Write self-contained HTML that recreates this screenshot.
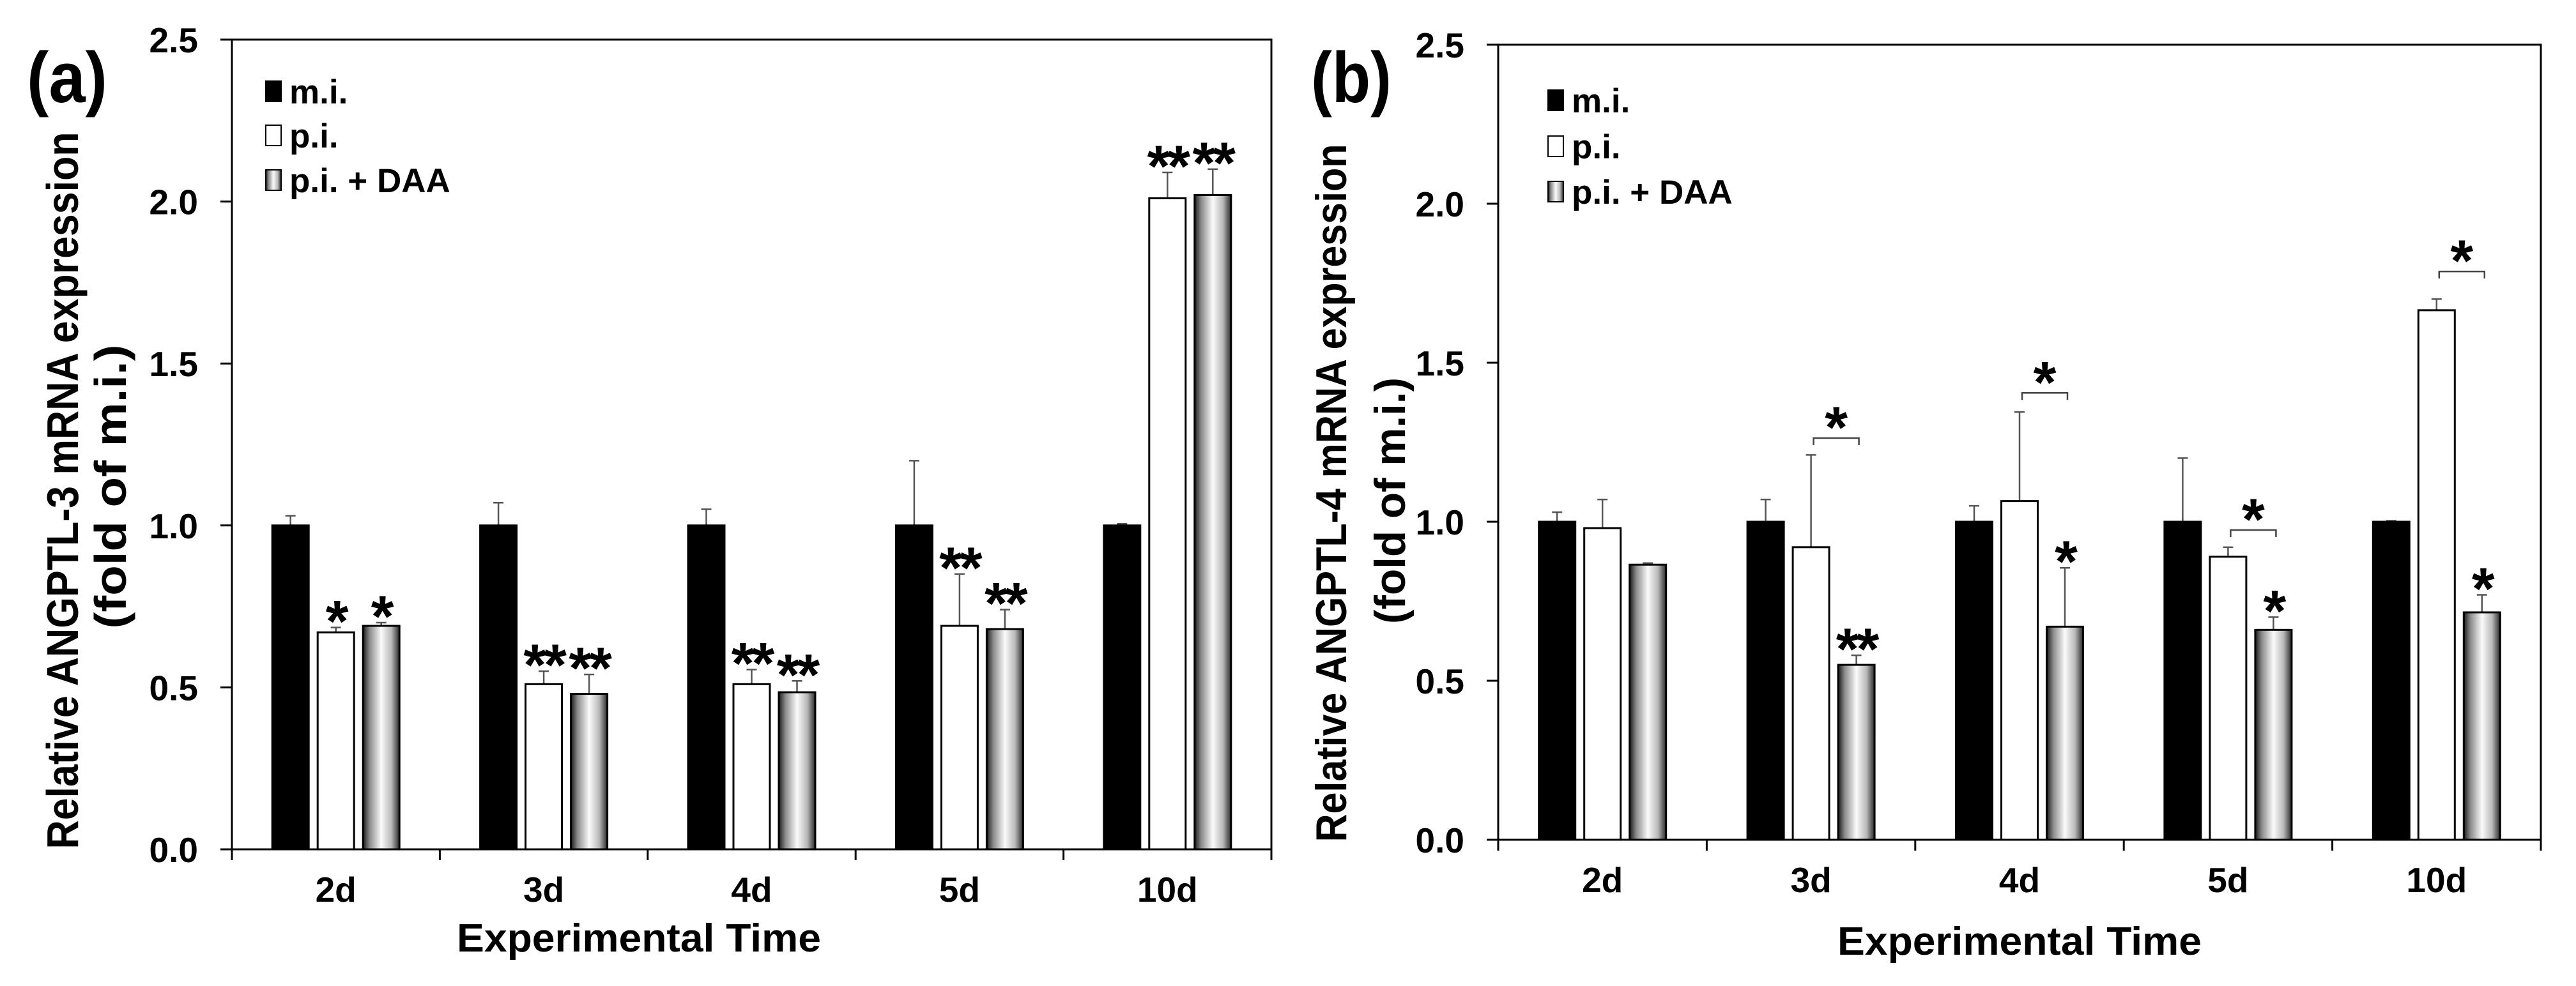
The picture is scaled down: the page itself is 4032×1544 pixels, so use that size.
<!DOCTYPE html>
<html><head><meta charset="utf-8"><style>
html,body{margin:0;padding:0;background:#fff;}
svg{display:block;font-family:"Liberation Sans",Arial,sans-serif;font-weight:bold;}
</style></head><body>
<svg id="fig" width="4032" height="1544" viewBox="0 0 4032 1544" xmlns="http://www.w3.org/2000/svg">
<defs>
<linearGradient id="cyl" x1="0" x2="1" y1="0" y2="0">
<stop offset="0" stop-color="#1a1a1a"/><stop offset="0.18" stop-color="#8a8a8a"/>
<stop offset="0.5" stop-color="#fbfbfb"/><stop offset="0.78" stop-color="#b8b8b8"/>
<stop offset="1" stop-color="#2a2a2a"/></linearGradient>
</defs>
</svg>
<script>
// categories and series
const categories = ["2d","3d","4d","5d","10d"];
const yTicks = ["0.0","0.5","1.0","1.5","2.0","2.5"];
const seriesNames = ["m.i.","p.i.","p.i. + DAA"];
// panel a values
const aMI = [1.0,1.0,1.0,1.0,1.0];
const aMIerr = [0.03,0.07,0.05,0.20,0.005];
const aPI = [0.67,0.51,0.51,0.69,2.01];
const aPIerr = [0.015,0.04,0.045,0.16,0.08];
const aDAA = [0.69,0.48,0.485,0.68,2.02];
const aDAAerr = [0.01,0.06,0.035,0.06,0.08];
const aPIstars = ["*","**","**","**","**"];
const aDAAstars = ["*","**","**","**","**"];
// panel b values
const bMI = [1.0,1.0,1.0,1.0,1.0];
const bMIerr = [0.03,0.07,0.05,0.20,0.003];
const bPI = [0.98,0.92,1.065,0.89,1.665];
const bPIerr = [0.09,0.29,0.28,0.03,0.035];
const bDAA = [0.865,0.55,0.67,0.66,0.715];
const bDAAerr = [0.005,0.03,0.185,0.04,0.055];
const bPIstars = ["","","","",""];
const bDAAstars = ["","**","*","*","*"];
const bBracketY = [null,1.263,1.405,0.974,1.787];

const svg=document.getElementById('fig');
const NS="http://www.w3.org/2000/svg";
function mk(tag,attrs,parent){const e=document.createElementNS(NS,tag);for(const k in attrs)e.setAttribute(k,attrs[k]);(parent||svg).appendChild(e);return e;}

function panel(cfg){
  const g=mk('g',{});
  
  
  const L=cfg.left,R=cfg.right,T=cfg.top,B=cfg.bottom;
  const yS=v=>B-(v/2.5)*(B-T);
  const gw=(R-L)/categories.length;
  const xC=i=>L+gw*(i+0.5);
  const fr=mk('rect',{x:L,y:T,width:R-L,height:B-T,fill:'none',stroke:'#000','stroke-width':3},g);
  
  
  yTicks.forEach((t,i)=>{
    const v=parseFloat(t),y=yS(v);
    mk('line',{x1:L-18,x2:L,y1:y,y2:y,stroke:'#000','stroke-width':3},g);
    const tx=mk('text',{x:L-53,y:y+20,'text-anchor':'end','font-size':55},g);
    tx.textContent=t;
    
    
  });
  for(let i=0;i<=categories.length;i++){
    const x=L+gw*i;
    mk('line',{x1:x,x2:x,y1:B,y2:B+17,stroke:'#000','stroke-width':3},g);
  }
  categories.forEach((c,i)=>{
    const tx=mk('text',{x:xC(i),y:B+82,'text-anchor':'middle','font-size':55},g);
    tx.textContent=c;
    
    
  });
  const bw=57,off=71;
  const fills=['#000','#fff','url(#cyl)'];
  const names=['bar-mi','bar-pi','bar-pi-daa'];
  const sets=[[cfg.mi,cfg.miE,null],[cfg.pi,cfg.piE,cfg.piS],[cfg.daa,cfg.daaE,cfg.daaS]];
  categories.forEach((c,i)=>{
    sets.forEach((s,k)=>{
      const cx=xC(i)+(k-1)*off,v=s[0][i],e=s[1][i];
      const yt=yS(v),ye=yS(v+e);
      const ln=mk('line',{x1:cx,x2:cx,y1:yt,y2:ye,stroke:'#555','stroke-width':2.5},g);
      
      
      mk('line',{x1:cx-8,x2:cx+8,y1:ye,y2:ye,stroke:'#555','stroke-width':2.5},g);
      const r=mk('rect',{x:cx-bw/2,y:yt,width:bw,height:B-yt,fill:fills[k],stroke:'#000','stroke-width':3},g);
      
      
      if(s[2]&&s[2][i]){
        const st=mk('text',{x:cx,y:ye+22,'text-anchor':'middle','font-size':92,'letter-spacing':'-4'},g);
        st.textContent=s[2][i];
        
        
      }
    });
    if(cfg.br&&cfg.br[i]!=null){
      const y=yS(cfg.br[i]),x1=xC(i)+4,x2=xC(i)+off+4;
      const p=mk('path',{d:`M${x1},${y+11}V${y}H${x2}V${y+11}`,fill:'none',stroke:'#444','stroke-width':2.5},g);
      
      
      const st=mk('text',{x:(x1+x2)/2,y:y+15,'text-anchor':'middle','font-size':92},g);
      st.textContent='*';
      
      
    }
  });
  cfg.legY.forEach((y,k)=>{
    const r=mk('rect',{x:cfg.legX,y:y-16,width:24,height:32,fill:fills[k],stroke:'#000','stroke-width':2},g);
    
    
    const t=mk('text',{x:cfg.legX+37,y:y+19,'font-size':53},g);
    t.textContent=seriesNames[k];
    
    
  });
  const xt=mk('text',{x:cfg.xtX,y:cfg.xtY,'text-anchor':'middle','font-size':62,textLength:570,lengthAdjust:'spacingAndGlyphs'},g);
  xt.textContent='Experimental Time';
  
  
  const y1=mk('text',{x:0,y:0,'text-anchor':'middle','font-size':cfg.tf,textLength:cfg.t1Len,lengthAdjust:'spacingAndGlyphs',transform:`translate(${cfg.t1X},${cfg.t1C}) rotate(-90)`},g);
  y1.textContent=cfg.title;
  
  
  const y2=mk('text',{x:0,y:0,'text-anchor':'middle','font-size':cfg.tf,textLength:cfg.t2Len,lengthAdjust:'spacingAndGlyphs',transform:`translate(${cfg.t2X},${cfg.t2C}) rotate(-90)`},g);
  y2.textContent='(fold of m.i.)';
  
  
  const pl=mk('text',{x:cfg.plX,y:cfg.plY,'font-size':112,textLength:126,lengthAdjust:'spacingAndGlyphs'},g);
  pl.textContent=cfg.label;
  
  
}
panel({id:'a',left:363,right:1990,top:62,bottom:1330,mi:aMI,miE:aMIerr,pi:aPI,piE:aPIerr,piS:aPIstars,daa:aDAA,daaE:aDAAerr,daaS:aDAAstars,br:null,
  legX:416,legY:[143,212,282],xtX:1000,xtY:1490,tf:70,title:'Relative ANGPTL-3 mRNA expression',t1X:122,t1C:768,t1Len:1123,t2X:197,t2C:762,t2Len:445,label:'(a)',plX:42,plY:160});
panel({id:'b',left:2345,right:3977,top:70,bottom:1315,mi:bMI,miE:bMIerr,pi:bPI,piE:bPIerr,piS:bPIstars,daa:bDAA,daaE:bDAAerr,daaS:bDAAstars,br:bBracketY,
  legX:2423,legY:[157,229,300],xtX:3161,xtY:1495,tf:68,title:'Relative ANGPTL-4 mRNA expression',t1X:2107,t1C:772,t1Len:1093,t2X:2199,t2C:784,t2Len:386,label:'(b)',plX:2052,plY:160});
</script>
</body></html>
